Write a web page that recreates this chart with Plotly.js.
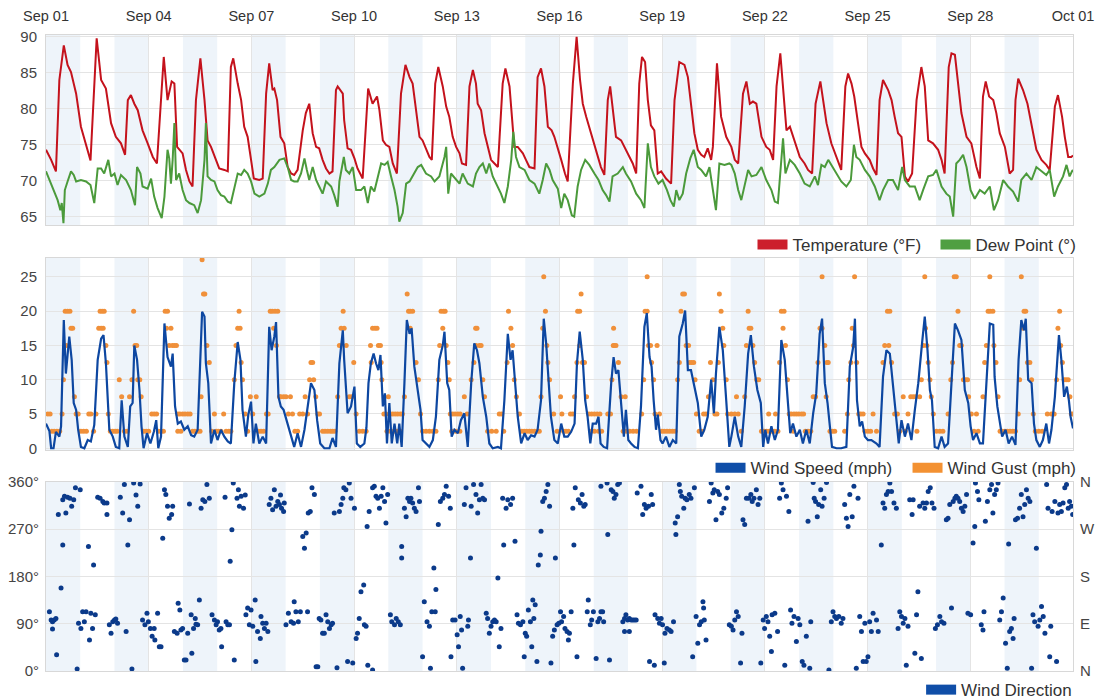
<!DOCTYPE html>
<html><head><meta charset="utf-8">
<script src="https://cdn.plot.ly/plotly-3.0.1.min.js"></script>
<style>html,body{margin:0;padding:0;background:#fff}#chart{width:1097px;height:700px}</style>
</head><body><div id="chart"></div>
<script>
// ---- Temperature (°F): day offset from Sep 01 00:00, value ----
const tempDay = [
 0.00,0.15,0.29,0.39,0.52,0.63,0.73,0.88,1.02,1.17,1.30,
 1.48,1.61,1.75,1.90,2.04,2.19,2.31,
 2.39,2.48,2.58,2.68,2.82,2.97,3.12,3.24,
 3.44,3.55,3.67,3.75,3.83,3.99,4.09,4.19,4.28,
 4.38,4.51,4.63,4.72,4.82,4.97,5.06,5.21,5.31,
 5.40,5.47,5.60,5.70,5.79,5.89,5.99,6.07,6.23,6.33,
 6.43,6.52,6.62,6.67,6.75,6.85,6.96,7.06,7.16,7.25,7.35,
 7.50,7.59,7.69,7.79,7.89,7.98,8.08,8.18,8.28,8.37,
 8.47,8.52,8.67,8.71,8.81,8.91,9.01,9.10,9.25,
 9.41,9.54,9.67,9.74,9.84,9.93,10.03,10.13,10.25,
 10.37,10.50,10.62,10.71,10.81,10.91,11.00,11.10,11.20,11.27,
 11.37,11.46,11.59,11.69,11.78,11.88,11.98,12.08,12.15,12.27,
 12.37,12.47,12.56,12.61,12.71,12.81,12.90,13.00,13.10,13.20,
 13.34,13.42,13.54,13.59,13.68,13.78,13.93,14.02,14.12,14.27,
 14.36,14.46,14.56,14.66,14.77,14.85,14.95,15.05,15.16,15.24,
 15.39,15.50,15.60,15.68,15.78,15.92,16.02,16.14,16.21,16.31,
 16.41,16.48,16.55,16.65,16.80,16.94,17.04,17.14,17.24,
 17.33,17.41,17.50,17.58,17.67,17.77,17.87,17.97,18.11,18.26,
 18.36,18.50,18.65,18.75,18.84,18.94,19.04,19.14,19.23,19.33,19.43,19.48,
 19.60,19.72,19.87,19.92,20.02,20.12,20.22,
 20.36,20.46,20.56,20.65,20.75,20.90,21.04,21.14,21.24,
 21.34,21.45,21.56,21.63,21.73,21.87,22.02,22.16,22.26,
 22.38,22.48,22.62,22.70,22.80,22.94,23.09,23.23,
 23.35,23.43,23.53,23.61,23.72,23.82,23.92,24.06,24.16,24.26,
 24.35,24.45,24.60,24.70,24.79,24.89,24.99,25.09,25.18,
 25.30,25.43,25.57,25.67,25.77,25.91,26.06,26.16,26.25,
 26.37,26.45,26.55,26.64,26.74,26.89,27.03,27.18,27.28,
 27.37,27.45,27.55,27.67,27.76,27.86,28.01,28.15,28.25,
 28.32,28.40,28.54,28.67,28.79,28.93,29.08,29.22,29.32,
 29.47,29.56,29.68,29.76,29.86,29.95,30.00];
const tempF = [
 74.3,72.9,71.3,84.0,88.8,86.1,85.1,82.1,77.5,75.0,72.8,
 89.8,84.0,82.8,78.0,76.1,75.2,73.6,
 81.2,81.9,80.7,79.8,77.0,75.2,73.3,72.4,
 87.2,81.2,83.8,83.5,74.7,73.8,71.5,69.9,69.2,
 81.2,87.0,81.2,75.6,74.7,72.9,71.7,71.5,71.3,
 85.8,87.0,83.5,81.2,77.5,76.1,72.9,70.3,70.1,70.3,
 82.1,86.3,82.6,82.8,81.2,76.1,75.2,71.9,71.0,70.8,71.5,
 77.0,79.4,80.7,76.6,74.7,74.5,72.9,71.7,71.0,71.3,
 82.6,83.1,82.1,78.4,74.5,74.3,73.1,71.7,70.3,
 82.8,80.7,81.7,79.8,75.6,75.0,74.7,72.4,71.0,
 82.1,86.1,84.4,83.5,79.4,76.1,75.6,74.5,73.3,72.9,
 83.5,85.8,83.1,80.3,78.9,76.1,74.7,73.8,72.4,72.2,
 83.1,85.4,83.5,80.7,79.8,76.6,74.7,72.9,72.4,71.9,
 83.5,85.6,83.1,80.3,74.7,74.7,73.8,72.9,71.9,71.7,
 84.4,85.6,83.1,77.5,77.0,76.1,74.3,72.9,71.0,69.9,
 83.5,90.0,84.0,80.7,78.9,76.6,74.7,72.9,71.9,70.8,
 81.2,83.1,80.3,76.1,75.6,74.3,73.3,72.4,71.0,
 83.5,87.2,86.5,81.2,77.7,77.0,71.0,71.3,70.3,69.6,
 81.2,86.5,86.1,84.4,80.3,76.6,74.3,73.6,73.3,74.5,72.9,74.7,
 86.3,78.9,76.1,75.6,74.7,72.9,72.4,
 82.1,83.8,80.7,81.0,80.7,76.1,74.7,74.3,72.9,
 83.1,87.7,81.2,77.0,77.5,75.6,73.3,72.4,71.5,
 71.0,80.7,83.8,81.2,78.0,75.2,73.3,71.5,
 83.1,84.9,83.5,81.7,78.0,74.7,73.8,72.9,71.7,70.8,
 81.2,84.0,82.6,81.2,78.9,76.6,76.1,70.6,69.9,
 71.0,81.2,85.8,83.1,75.6,75.2,74.3,72.9,71.0,
 85.8,87.7,87.5,83.5,79.4,76.1,75.2,71.9,70.3,
 81.7,83.8,81.7,81.2,79.4,76.6,74.7,71.0,71.5,
 81.2,84.2,82.6,80.7,77.5,74.3,72.9,72.2,71.5,
 80.3,81.9,78.9,76.1,73.3,73.3,73.5];

// ---- Dew point (°) ----
const dewDay = [
 0.00,0.15,0.24,0.34,0.42,0.46,0.51,0.55,0.63,0.73,0.81,0.88,1.02,1.17,1.30,1.41,
 1.51,1.61,1.70,1.82,1.90,2.00,2.09,2.19,2.34,2.48,2.60,2.66,2.76,2.82,2.97,3.07,3.16,3.26,3.38,
 3.46,3.55,3.60,3.65,3.70,3.75,3.80,3.89,3.99,4.09,4.19,4.33,4.43,4.53,4.63,4.67,4.72,4.82,4.92,
 5.01,5.11,5.21,5.31,5.40,5.50,5.60,5.70,5.79,5.89,5.99,6.09,6.23,6.38,6.48,6.57,6.67,6.82,6.96,
 7.06,7.16,7.25,7.35,7.45,7.55,7.62,7.69,7.79,7.89,7.98,8.08,8.18,8.33,8.42,8.52,8.57,8.70,8.76,8.86,8.96,9.06,
 9.20,9.30,9.40,9.49,9.59,9.69,9.79,9.89,9.98,10.08,10.18,10.27,10.32,10.42,10.52,10.62,10.76,10.86,10.96,
 11.10,11.25,11.35,11.49,11.64,11.69,11.75,11.83,11.98,12.08,12.17,12.32,12.47,12.56,12.66,12.76,12.86,12.95,
 13.05,13.15,13.29,13.39,13.49,13.59,13.65,13.73,13.83,13.98,14.12,14.27,14.41,14.51,14.61,14.71,14.80,14.95,
 15.05,15.14,15.24,15.36,15.43,15.53,15.63,15.75,15.87,16.02,16.14,16.26,16.36,16.46,16.55,16.70,16.85,16.94,
 17.09,17.24,17.38,17.48,17.53,17.58,17.67,17.77,17.89,18.01,18.14,18.24,18.34,18.41,18.50,18.60,18.70,18.82,18.92,
 19.04,19.14,19.28,19.38,19.48,19.57,19.67,19.82,19.96,
 20.02,20.12,20.22,20.31,20.41,20.51,20.61,20.75,20.90,21.04,21.19,21.29,21.38,21.46,21.53,21.60,21.73,21.87,
 22.02,22.16,22.31,22.46,22.55,22.65,22.75,22.85,22.94,23.09,23.23,23.38,23.51,23.60,23.67,23.77,23.92,24.06,24.21,
 24.35,24.45,24.60,24.74,24.89,25.01,25.09,25.23,25.38,25.52,25.62,25.77,25.91,26.01,26.16,26.30,26.40,26.50,26.59,
 26.69,26.79,26.89,27.01,27.13,27.28,27.42,27.57,27.69,27.81,27.96,28.10,28.25,28.40,28.49,28.64,28.79,28.93,
 29.08,29.22,29.32,29.45,29.56,29.71,29.81,29.90,29.97,30.00];
const dewF = [
 71.3,69.6,68.5,67.3,65.9,66.9,64.1,68.7,69.9,71.3,70.8,69.9,70.1,69.9,69.4,66.9,
 71.7,71.7,71.0,72.9,70.6,71.0,69.4,70.8,70.1,68.7,66.6,71.9,71.0,69.2,68.9,70.3,67.8,66.2,64.8,
 67.8,74.3,73.1,69.6,72.9,78.0,70.1,71.0,68.7,67.3,66.9,66.6,65.5,67.3,72.9,78.0,70.6,70.1,69.9,
 68.7,68.0,67.8,67.1,66.9,69.2,71.0,70.8,71.5,71.0,69.9,68.2,67.8,68.2,69.6,71.5,71.9,72.9,73.1,
 71.9,70.1,69.9,69.9,71.0,73.1,71.5,70.1,71.9,70.1,69.2,68.2,69.9,69.2,68.0,66.4,69.9,73.3,71.5,71.0,71.9,68.7,
 68.7,69.2,66.9,69.2,68.5,70.6,72.4,72.2,72.6,70.6,68.7,66.4,64.3,65.5,69.6,69.9,71.0,71.9,72.2,
 71.0,70.6,69.9,70.6,73.3,74.7,68.2,71.0,70.1,69.6,71.0,69.6,69.2,71.0,71.9,72.4,71.0,72.4,
 70.6,69.6,68.2,66.9,69.2,72.9,76.8,73.3,71.9,71.5,70.1,69.6,68.2,70.1,72.4,71.5,70.1,68.9,
 66.2,68.2,67.3,65.2,65.0,69.2,71.5,72.9,72.2,71.0,70.1,68.7,68.0,67.1,70.6,71.0,71.9,71.0,
 69.9,68.2,67.3,66.2,69.9,75.2,71.9,70.6,69.6,70.1,68.7,67.3,66.4,68.7,67.3,68.2,71.0,73.1,74.3,
 71.9,71.5,70.6,71.9,68.7,65.9,72.4,72.2,72.4,
 72.2,71.0,68.7,67.3,69.2,71.5,70.6,70.8,71.9,70.1,68.7,67.1,66.9,71.9,75.9,71.0,72.9,72.2,
 71.0,69.6,69.2,70.6,69.4,72.2,71.9,72.9,72.2,71.0,69.9,69.2,70.1,75.0,73.3,72.9,71.5,70.6,69.2,
 67.3,68.7,70.1,70.1,68.7,71.9,70.1,69.2,69.2,67.3,68.7,70.6,70.8,71.5,69.2,68.2,67.8,65.0,72.4,
 72.9,73.6,71.9,68.7,67.5,68.7,68.2,69.2,65.9,67.3,70.1,69.2,68.5,67.1,70.1,71.0,70.1,71.9,
 71.3,70.8,71.5,67.8,69.2,70.6,72.2,70.6,71.3,71.5];

// ---- Wind speed (mph) ----
const windDay = [
 0.00,0.10,0.15,0.22,0.29,0.39,0.44,0.52,0.58,0.63,0.68,0.75,0.81,0.88,0.94,1.02,1.12,1.22,1.31,
 1.41,1.51,1.61,1.68,1.75,1.80,1.85,1.95,2.04,2.14,2.21,2.29,2.39,2.46,2.53,2.58,2.66,2.73,2.79,2.85,2.95,
 3.05,3.15,3.22,3.28,3.36,3.46,3.55,3.65,3.70,3.77,3.85,3.94,4.04,4.14,4.24,4.33,4.43,
 4.56,4.63,4.67,4.74,4.82,4.92,5.01,5.11,5.21,5.31,5.40,
 5.50,5.60,5.68,5.74,5.84,5.91,5.99,6.06,6.13,6.23,6.33,6.43,
 6.52,6.59,6.67,6.72,6.79,6.86,6.94,7.04,7.16,7.25,7.35,7.45,
 7.55,7.64,7.74,7.84,7.92,8.01,8.13,8.28,8.37,8.47,
 8.57,8.67,8.71,8.81,8.91,9.01,9.08,9.18,9.30,
 9.36,9.42,9.49,9.57,9.64,9.71,9.77,9.84,9.90,9.96,10.03,10.10,10.18,10.26,10.32,10.39,
 10.47,10.54,10.62,10.68,10.76,10.86,10.94,11.00,11.10,11.20,11.30,11.39,
 11.49,11.59,11.64,11.72,11.78,11.85,11.93,12.03,12.12,12.22,12.32,
 12.42,12.51,12.59,12.66,12.76,12.86,12.95,13.05,13.20,13.29,
 13.39,13.49,13.57,13.63,13.70,13.78,13.88,13.98,14.07,14.17,14.27,14.36,
 14.46,14.54,14.61,14.68,14.75,14.85,14.95,15.05,15.14,15.24,15.34,15.44,
 15.51,15.59,15.68,15.75,15.82,15.90,15.97,16.07,16.14,16.20,16.29,16.39,
 16.51,16.58,16.65,16.72,16.80,16.88,16.94,17.01,17.09,17.19,17.29,
 17.38,17.48,17.55,17.63,17.69,17.75,17.82,17.87,17.95,18.01,18.11,18.21,18.31,18.41,
 18.50,18.60,18.67,18.75,18.84,18.94,19.04,19.14,19.23,19.33,19.43,19.51,
 19.57,19.67,19.77,19.87,19.96,20.02,20.12,20.22,20.31,
 20.41,20.51,20.59,20.68,20.78,20.88,20.95,21.01,21.09,21.19,21.29,21.38,
 21.48,21.58,21.66,21.74,21.82,21.92,22.02,22.11,22.21,22.31,22.41,22.50,
 22.60,22.67,22.75,22.83,22.89,22.96,23.09,23.23,23.38,
 23.48,23.58,23.63,23.69,23.77,23.84,23.92,24.01,24.11,24.26,24.35,
 24.45,24.55,24.65,24.72,24.77,24.84,24.91,24.99,25.09,25.18,25.28,25.38,25.48,
 25.59,25.67,25.75,25.82,25.88,25.96,26.06,26.16,26.25,26.35,
 26.45,26.55,26.64,26.74,26.84,26.94,27.01,27.08,27.18,27.28,27.37,
 27.47,27.57,27.67,27.71,27.79,27.86,27.93,28.03,28.12,28.22,28.32,
 28.41,28.49,28.57,28.62,28.69,28.79,28.86,28.93,29.03,29.12,29.22,29.30,29.37,
 29.47,29.59,29.66,29.74,29.82,29.88,29.93,30.00];
const windMph = [
 3.6,2.5,0,0,2.4,1.7,3.2,18.7,10.9,14.3,16.3,12.9,6.6,5.6,2.7,0.2,0,1.2,1.0,
 3.4,12.9,16.0,16.5,12.4,7.5,2.7,1.7,0.2,0,7.0,1.7,0.2,6.1,6.6,15.0,12.9,8.5,3.2,0,2.2,
 0.7,2.4,4.1,0,1.7,18.2,13.3,11.9,13.8,6.1,3.6,3.9,2.7,3.2,1.9,1.7,2.7,
 19.9,19.2,12.4,9.5,0.7,2.7,1.2,2.7,1.7,1.0,0.7,
 9.5,15.5,12.9,5.6,1.7,4.9,6.8,0.7,3.6,0.7,1.7,0.7,
 17.7,14.3,16.3,18.4,7.5,6.1,5.6,3.9,1.7,0.2,2.2,0.2,
 2.7,6.1,9.5,8.5,4.1,0.7,0,0,1.5,0.2,
 12.4,17.2,12.9,5.1,6.1,9.0,0.7,0.2,0.7,
 3.0,9.5,12.4,13.8,12.4,11.4,13.6,6.1,8.0,0.7,6.6,0.7,3.6,0.7,3.6,0.2,
 9.5,18.7,16.7,17.5,11.9,8.5,5.6,1.2,0.7,0.2,1.2,4.6,
 12.9,15.0,17.0,9.5,8.5,1.7,2.7,2.2,4.1,5.1,0.2,
 9.5,15.3,14.3,12.4,7.5,4.6,0.7,0,0.2,0,
 7.0,16.7,12.9,14.3,9.5,4.6,0.7,2.2,1.2,1.9,1.7,2.7,
 7.0,18.9,15.3,10.0,4.6,1.2,0.7,3.6,1.7,1.7,2.4,3.6,
 12.4,17.0,12.9,7.0,4.6,0.7,3.6,3.6,4.6,0.7,0.2,0,
 9.5,13.3,10.9,11.4,6.6,1.7,5.6,1.2,0.7,0.2,0,
 6.1,17.7,19.7,13.3,11.9,7.0,2.7,4.9,1.2,0.7,1.7,0.2,1.2,0.7,
 16.3,18.2,20.1,11.4,11.4,9.0,6.6,1.7,2.7,4.6,10.0,5.1,
 10.9,17.7,14.3,7.0,0.2,1.7,4.6,1.7,0.2,
 6.1,13.8,16.5,11.9,8.5,6.6,0.2,2.7,0.7,3.2,1.2,2.7,
 15.8,12.9,7.5,2.2,3.6,1.7,2.7,0.7,2.7,0.7,5.1,8.0,
 16.7,18.9,9.5,6.6,3.6,0.2,0,0,0.2,
 11.9,14.8,18.9,7.0,3.2,3.9,1.7,1.2,1.2,0.7,0.2,
 10.4,14.3,13.8,10.4,8.0,3.6,0.7,4.1,1.7,3.6,1.2,5.6,9.5,
 15.3,19.2,14.3,8.5,7.0,0.2,0,1.7,0.2,0.7,
 9.5,18.2,17.2,15.8,8.5,6.6,3.2,1.2,2.2,0.7,0.7,
 10.4,18.2,18.0,10.4,6.1,3.6,1.7,2.7,0.7,1.7,0.5,
 12.9,18.7,17.2,18.9,10.0,9.5,3.6,1.2,0.2,1.2,3.6,0.7,2.7,
 7.5,16.5,12.9,7.5,9.0,7.0,4.6,2.9];

// ---- Wind gust (mph), reported points ----
const gustDay = [
 0.05,0.12,0.17,0.24,0.32,0.40,0.47,0.51,0.56,0.60,0.63,0.70,0.73,0.78,0.83,0.88,0.94,
 1.02,1.10,1.18,1.25,1.31,1.39,1.46,1.54,1.58,1.61,1.64,1.67,1.70,1.75,1.78,1.82,1.88,1.95,
 2.02,2.08,2.14,2.21,2.29,2.37,2.44,2.51,2.56,2.60,2.65,2.68,2.74,2.78,2.85,2.93,
 3.00,3.09,3.16,3.23,3.28,3.36,3.43,3.48,3.52,3.55,3.60,3.65,3.69,3.75,3.81,3.85,3.85,3.91,3.94,3.99,4.06,4.14,4.21,4.28,4.35,4.43,4.50,
 4.53,4.56,4.60,4.64,4.70,4.77,4.84,4.92,4.97,5.03,5.11,5.19,5.26,5.34,5.40,
 5.50,5.55,5.60,5.64,5.67,5.70,5.74,5.82,5.89,5.97,6.04,6.14,6.20,6.28,6.36,6.44,6.49,
 6.55,6.61,6.65,6.69,6.73,6.77,6.82,6.86,6.94,7.01,7.08,7.14,7.20,7.27,7.35,7.41,
 7.50,7.57,7.64,7.70,7.74,7.79,7.82,7.88,7.94,7.99,8.08,8.15,8.23,8.31,8.37,8.44,
 8.52,8.57,8.62,8.68,8.71,8.77,8.86,8.93,8.99,9.06,9.15,9.25,9.35,
 9.48,9.50,9.54,9.61,9.67,9.71,9.77,9.79,9.81,9.87,9.93,9.96,10.00,10.06,10.06,10.13,10.16,10.20,10.26,10.27,10.35,10.35,10.41,
 10.47,10.55,10.59,10.64,10.64,10.71,10.81,10.88,10.94,11.00,11.10,11.20,11.30,11.39,
 11.46,11.50,11.54,11.59,11.61,11.66,11.69,11.74,11.78,11.81,11.85,11.88,11.95,11.97,12.03,12.09,12.10,12.22,12.30,
 12.42,12.50,12.55,12.56,12.59,12.66,12.71,12.76,12.81,12.90,13.02,13.15,13.24,13.31,13.37,
 13.47,13.51,13.58,13.63,13.68,13.74,13.83,13.90,13.97,14.04,14.12,14.19,14.27,14.34,14.41,
 14.46,14.51,14.54,14.59,14.63,14.66,14.71,14.83,14.93,15.03,15.07,15.12,15.19,15.26,15.32,15.39,15.44,
 15.51,15.53,15.59,15.59,15.63,15.67,15.73,15.79,15.86,15.92,15.94,16.02,16.02,16.10,16.14,16.18,16.23,
 16.41,16.49,16.53,16.57,16.58,16.60,16.65,16.72,16.80,16.86,16.92,16.95,17.05,17.15,17.25,
 17.40,17.46,17.50,17.56,17.56,17.60,17.66,17.69,17.75,17.79,17.85,17.92,17.99,18.06,18.14,18.22,18.30,18.38,
 18.45,18.50,18.55,18.60,18.65,18.70,18.77,18.80,18.86,18.92,18.96,19.00,19.08,19.16,19.21,19.28,19.35,
 19.41,19.48,19.54,19.60,19.64,19.67,19.72,19.77,19.80,19.87,19.91,
 20.02,20.12,20.17,20.22,20.31,20.41,20.46,20.51,20.54,20.59,20.65,20.70,20.76,20.82,20.90,20.98,21.05,21.11,21.13,21.21,21.29,21.31,21.38,
 21.43,21.48,21.53,21.56,21.60,21.66,21.71,21.77,21.83,21.85,21.92,21.99,22.07,22.13,22.18,22.26,22.34,
 22.41,22.48,22.55,22.61,22.67,22.67,22.75,22.79,22.81,22.85,22.90,22.97,23.04,23.33,
 23.41,23.45,23.51,23.55,23.59,23.62,23.68,23.74,23.80,23.87,23.92,24.01,24.09,24.16,24.26,
 24.45,24.50,24.58,24.62,24.65,24.70,24.79,24.87,24.94,25.04,25.10,25.18,25.26,25.33,25.40,25.44,
 25.52,25.57,25.63,25.67,25.69,25.73,25.77,25.82,25.86,25.92,26.01,26.11,26.20,
 26.35,26.43,26.48,26.53,26.59,26.64,26.69,26.74,26.80,26.86,26.92,26.95,27.03,27.11,27.18,27.23,
 27.37,27.42,27.47,27.52,27.57,27.58,27.66,27.69,27.75,27.81,27.87,27.94,28.01,28.08,28.16,28.24,28.32,
 28.40,28.44,28.49,28.54,28.57,28.62,28.67,28.74,28.79,28.84,28.90,29.00,29.10,29.25,
 29.37,29.45,29.52,29.56,29.61,29.64,29.69,29.74,29.80,29.86,29.91,29.95,30.00];
const gustMph = [
 5,5,2.5,2.5,2.5,2.5,5,10,20,15,20,20,17.5,17.5,7.5,5,5,
 2.5,2.5,2.5,5,5,2.5,5,17.5,20,17.5,20,17.5,20,15,12.5,5,2.5,2.5,
 2.5,2.5,10,7.5,2.5,2.5,7.5,10,20,15,15,10,10,7.5,2.5,2.5,
 2.5,5,5,5,2.5,2.5,2.5,20,17.5,20,15,17.5,15,15,15,5,2.5,5,2.5,5,5,5,5,2.5,2.5,2.5,2.5,
 7.5,27.5,22.5,22.5,15,12.5,2.5,5,2.5,2.5,2.5,5,2.5,2.5,2.5,
 10,15,17.5,20,17.5,12.5,10,5,2.5,7.5,5,7.5,2.5,2.5,2.5,5,5,
 20,20,17.5,20,15,20,7.5,7.5,7.5,7.5,5,7.5,5,2.5,2.5,5,
 5,7.5,5,10,12.5,12.5,10,7.5,5,5,2.5,2.5,2.5,2.5,2.5,2.5,
 7.5,15,17.5,20,17.5,15,7.5,7.5,12.5,5,2.5,2.5,2.5,
 15,12.5,17.5,17.5,17.5,15,15,12.5,10,5,5,2.5,7.5,5,2.5,5,2.5,5,2.5,5,5,2.5,5,
 7.5,22.5,20,20,17.5,20,12.5,10,5,2.5,2.5,2.5,2.5,2.5,
 10,15,20,17.5,20,20,15,12.5,10,5,2.5,5,5,2.5,5,2.5,5,7.5,5,
 10,12.5,17.5,15,17.5,15,15,10,7.5,2.5,2.5,2.5,5,5,2.5,
 12.5,20,17.5,15,10,7.5,5,2.5,2.5,2.5,2.5,2.5,2.5,2.5,2.5,
 7.5,17.5,25,20,15,12.5,10,5,2.5,7.5,5,2.5,2.5,2.5,5,5,7.5,
 12.5,20,20,15,22.5,12.5,12.5,7.5,5,2.5,5,5,2.5,5,2.5,5,2.5,
 5,5,10,15,17.5,15,15,12.5,7.5,2.5,7.5,2.5,2.5,2.5,2.5,
 5,10,20,20,25,15,15,12.5,10,5,15,5,2.5,2.5,2.5,2.5,2.5,2.5,
 10,12.5,20,22.5,22.5,15,15,12.5,12.5,12.5,10,5,2.5,2.5,5,5,7.5,
 12.5,10,5,5,12.5,22.5,20,17.5,15,10,5,
 5,5,7.5,5,2.5,7.5,15,20,17.5,17.5,15,12.5,10,10,2.5,2.5,2.5,5,2.5,2.5,2.5,5,2.5,
 12.5,20,17.5,20,15,10,5,5,2.5,5,5,5,5,5,2.5,2.5,2.5,
 7.5,7.5,12.5,17.5,17.5,25,15,7.5,12.5,12.5,2.5,2.5,2.5,2.5,
 5,10,12.5,17.5,15,25,12.5,5,5,5,2.5,2.5,2.5,5,2.5,
 12.5,15,20,15,20,12.5,5,5,2.5,7.5,2.5,5,7.5,7.5,7.5,2.5,
 7.5,10,15,25,17.5,15,12.5,10,7.5,5,2.5,2.5,2.5,
 5,10,12.5,25,25,20,15,15,10,10,10,7.5,5,2.5,5,2.5,
 7.5,12.5,15,20,25,20,20,15,12.5,7.5,2.5,2.5,2.5,2.5,2.5,2.5,2.5,
 5,10,25,17.5,20,20,12.5,12.5,10,5,2.5,2.5,2.5,5,
 5,5,10,17.5,20,15,12.5,10,10,10,7.5,5,5];

// ---- Wind direction (degrees) ----
const dirDay = [
 0.10,0.15,0.19,0.24,0.29,0.19,0.31,0.36,0.44,0.49,0.49,0.54,0.58,0.63,0.70,0.75,0.81,0.86,0.91,0.95,
 1.00,1.02,1.07,1.12,1.17,1.24,1.27,1.31,1.36,1.39,1.44,1.51,1.58,1.66,1.70,1.78,1.78,1.85,1.90,1.95,
 2.00,2.04,2.09,2.17,2.24,2.29,2.34,2.39,2.44,2.51,2.56,2.63,2.68,2.75,2.82,2.89,2.95,2.99,
 3.05,3.10,3.16,3.18,3.26,3.31,3.36,3.41,3.46,3.50,3.55,3.60,3.67,3.70,3.75,3.83,3.86,3.91,3.94,3.99,
 4.04,4.09,4.14,4.19,4.24,4.26,4.31,4.36,4.38,4.43,4.48,4.53,4.58,4.64,4.70,4.77,4.85,4.92,4.97,
 5.01,5.06,5.11,5.13,5.23,5.26,5.31,5.36,5.38,5.43,5.47,5.50,5.58,5.62,5.65,5.70,5.77,5.82,5.84,5.89,5.94,5.99,
 6.04,6.11,6.13,6.18,6.26,6.28,6.33,6.38,6.43,6.48,6.52,6.57,6.62,6.67,6.72,6.77,6.82,6.85,6.88,6.94,6.96,
 7.01,7.08,7.16,7.23,7.25,7.30,7.37,7.43,7.50,7.55,7.60,7.64,7.66,7.72,7.77,7.84,7.89,7.94,7.98,
 8.03,8.08,8.13,8.18,8.23,8.28,8.33,8.37,8.42,8.50,8.57,8.62,8.67,8.70,8.76,8.81,8.86,8.91,8.96,
 9.01,9.06,9.10,9.15,9.20,9.28,9.30,9.35,9.38,9.40,9.44,
 9.54,9.59,9.54,9.64,9.69,9.74,9.79,9.84,9.89,9.93,9.98,
 10.06,10.10,10.18,10.23,10.29,10.35,10.39,10.39,10.47,10.52,10.57,10.62,10.66,10.71,10.76,10.81,10.88,10.91,
 11.00,11.05,11.13,11.20,11.23,11.27,11.33,11.37,11.39,11.46,11.52,11.59,11.64,11.69,11.76,11.81,11.83,11.88,11.95,
 12.01,12.05,12.10,12.14,12.17,12.22,12.27,12.32,12.34,12.40,12.42,12.49,12.56,12.61,12.66,12.71,12.76,12.81,12.86,12.90,12.95,
 13.00,13.05,13.10,13.15,13.20,13.24,13.29,13.34,13.37,13.44,13.49,13.57,13.63,13.70,13.76,13.80,13.86,13.93,13.97,
 14.00,14.04,14.09,14.15,14.19,14.22,14.25,14.29,14.34,14.38,14.44,14.46,14.51,14.56,14.61,14.66,14.71,14.75,14.80,14.85,14.88,14.93,14.98,
 15.03,15.06,15.12,15.16,15.22,15.26,15.29,15.34,15.39,15.42,15.46,15.51,15.55,15.61,15.66,15.71,15.75,15.81,15.84,15.90,15.94,15.99,
 16.07,16.12,16.17,16.21,16.26,16.29,16.21,16.39,16.46,16.51,16.56,16.60,16.65,16.70,16.75,16.41,16.85,16.90,16.94,16.99,
 17.04,17.09,17.14,17.19,17.24,16.90,17.04,17.27,17.38,17.43,17.48,17.53,17.60,17.68,17.72,17.63,17.77,17.79,17.87,17.92,17.97,
 18.01,18.06,18.08,18.14,18.21,18.26,18.33,18.38,18.40,18.45,18.50,18.53,18.57,18.63,18.67,18.72,18.79,18.84,18.94,18.89,18.99,
 19.04,19.09,19.14,19.19,19.21,19.28,19.23,19.38,19.43,19.48,19.52,19.57,19.62,19.67,19.74,19.80,19.87,19.91,19.96,
 20.02,20.07,20.12,20.17,20.22,20.29,20.33,20.36,20.41,20.46,20.53,20.59,20.63,20.68,20.75,20.80,20.85,20.88,20.95,20.99,
 21.04,21.09,21.14,21.19,21.21,21.29,21.37,21.43,21.48,21.53,21.58,21.63,21.70,21.75,21.79,21.85,21.92,21.97,
 22.02,22.09,22.14,22.21,22.26,22.31,22.34,22.41,22.44,22.48,22.53,22.57,22.63,22.67,22.73,22.80,22.87,22.94,22.99,
 23.04,23.09,23.16,23.23,23.28,23.33,23.38,23.43,23.48,23.55,23.60,23.67,23.72,23.77,23.82,23.87,23.92,23.96,
 24.01,24.06,24.11,24.16,24.26,24.31,24.40,24.45,24.50,24.55,24.60,24.65,24.70,24.77,24.84,24.89,24.94,24.99,
 25.04,25.09,25.13,25.18,25.23,25.30,25.33,25.38,25.43,25.47,25.52,25.57,25.62,25.67,25.72,25.77,25.83,25.88,25.94,25.98,
 26.04,26.11,26.16,26.23,26.30,26.35,26.40,26.45,26.50,26.55,26.59,26.64,26.69,26.74,26.79,26.84,26.89,26.93,
 27.01,27.08,27.13,27.15,27.21,27.25,27.32,27.37,27.40,27.44,27.50,27.57,27.62,27.66,27.71,27.76,27.81,27.86,27.91,27.96,
 28.03,28.08,28.12,28.15,28.20,28.25,28.28,28.32,28.38,28.44,28.49,28.54,28.59,28.64,28.69,28.74,28.79,28.83,28.88,28.93,28.98,
 29.03,29.08,29.13,29.18,29.23,29.27,29.32,29.35,29.39,29.47,29.52,29.56,29.61,29.66,29.71,29.76,29.81,29.86,29.90,29.95,29.99];
const dirDeg = [
 113,97,94,97,100,80,31,298,158,240,326,333,301,331,329,314,326,349,4,91,
 345,81,113,94,113,237,59,110,81,202,107,331,329,323,320,320,298,88,72,94,
 97,99,91,331,301,355,75,240,288,4,358,335,314,356,97,88,110,94,
 81,66,81,59,110,46,46,253,345,336,314,291,298,314,75,72,129,116,78,81,
 21,21,72,318,107,34,81,100,89,88,135,310,326,323,355,329,107,97,88,
 94,78,81,46,331,94,88,88,209,269,358,21,329,345,314,333,310,335,107,120,88,116,
 85,135,18,75,62,104,91,81,91,75,317,329,307,345,314,323,317,335,310,304,320,
 88,110,94,91,132,113,94,113,256,234,263,113,301,304,349,336,8,8,100,
 97,72,72,107,94,81,88,91,301,6,304,317,329,349,345,18,358,329,15,
 310,62,72,100,151,164,88,85,275,11,304,
 349,352,2,333,329,310,333,349,323,282,336,
 107,94,88,100,94,88,215,237,310,294,329,323,329,320,310,304,349,323,
 27,132,94,85,5,113,196,113,155,279,323,329,336,352,333,310,27,97,97,
 69,46,104,78,5,317,349,85,97,215,314,355,336,301,326,355,329,326,110,100,72,
 85,94,97,94,177,46,81,329,240,310,326,317,329,247,107,91,88,94,27,
 72,66,116,94,46,135,100,126,18,202,221,266,323,329,342,355,314,15,66,78,215,88,91,
 113,94,104,81,75,59,72,113,310,240,349,27,326,320,336,314,317,113,135,88,97,113,
 24,94,100,113,113,94,352,358,21,345,342,329,336,355,358,260,94,100,107,97,
 100,97,97,97,97,75,75,339,352,298,317,310,314,336,317,18,11,107,100,91,100,
 88,15,72,81,78,75,94,282,260,294,355,342,333,310,329,326,336,329,349,27,104,
 53,88,94,132,120,59,97,323,358,339,345,288,342,336,301,310,329,349,88,
 85,78,97,113,104,15,72,288,279,329,329,336,323,329,345,317,329,15,97,81,
 104,94,66,37,107,110,75,329,358,345,11,333,304,116,91,104,56,100,
 88,18,11,66,285,5,94,359,329,323,294,317,345,314,329,359,2,94,113,
 104,100,104,91,100,317,291,275,336,294,352,5,329,104,75,18,91,18,
 27,94,75,110,97,75,240,320,310,336,342,358,342,320,310,81,113,104,
 91,100,11,85,326,298,326,34,107,151,314,24,320,310,320,342,349,320,310,81,
 88,104,94,91,288,291,317,120,323,329,333,329,323,310,304,314,336,110,
 107,244,275,358,342,326,88,78,113,285,323,345,355,301,336,345,358,97,113,139,
 53,5,242,75,81,62,100,288,291,310,336,294,317,345,329,323,5,107,94,234,85,
 97,123,104,72,355,310,27,85,304,323,18,301,317,304,320,349,355,310,323,314,298];

const dirTickVals = [0, 90, 180, 270, 360];
const compassText = ['N', 'E', 'S', 'W', 'N'];

// ---- build ----
const DAY = 86400000;
const T0 = Date.UTC(2019, 8, 1);
const toX = a => a.map(d => T0 + d * DAY);
const FONT = 'Liberation Sans, Arial, sans-serif';
const GRID = '#e4e4e4', BORDER = '#d8d8d8';

const traces = [
  {x: toX(tempDay), y: tempF, xaxis:'x', yaxis:'y', mode:'lines', line:{color:'#c4121c', width:2}, showlegend:false, hoverinfo:'skip'},
  {x: toX(dewDay), y: dewF, xaxis:'x', yaxis:'y', mode:'lines', line:{color:'#4b9a3b', width:2}, showlegend:false, hoverinfo:'skip'},
  {x: toX(gustDay), y: gustMph, xaxis:'x2', yaxis:'y2', mode:'markers', marker:{color:'#f0903a', size:5}, showlegend:false, hoverinfo:'skip'},
  {x: toX(windDay), y: windMph, xaxis:'x2', yaxis:'y2', mode:'lines', line:{color:'#0d47a1', width:2.2}, showlegend:false, hoverinfo:'skip'},
  {x: toX(dirDay), y: dirDeg, xaxis:'x3', yaxis:'y3', mode:'markers', marker:{color:'#0b3a8a', size:5}, showlegend:false, hoverinfo:'skip'},
  {x: [T0], y: [null], xaxis:'x3', yaxis:'y4', mode:'markers', showlegend:false, hoverinfo:'skip'},
  // legend swatches
  {x:[null], y:[null], xaxis:'x', yaxis:'y', mode:'lines', line:{color:'#cc1f2c', width:10}, name:'Temperature (°F)', legend:'legend'},
  {x:[null], y:[null], xaxis:'x', yaxis:'y', mode:'lines', line:{color:'#4f9f42', width:10}, name:'Dew Point (°)', legend:'legend'},
  {x:[null], y:[null], xaxis:'x2', yaxis:'y2', mode:'lines', line:{color:'#0f4ea8', width:10}, name:'Wind Speed (mph)', legend:'legend2'},
  {x:[null], y:[null], xaxis:'x2', yaxis:'y2', mode:'lines', line:{color:'#f39132', width:10}, name:'Wind Gust (mph)', legend:'legend2'},
  {x:[null], y:[null], xaxis:'x3', yaxis:'y3', mode:'lines', line:{color:'#0f4ea8', width:10}, name:'Wind Direction', legend:'legend3'}
];

const shapes = [];
for (let k = 0; k < 30; k += 2) {
  [['x','y domain'],['x2','y2 domain'],['x3','y3 domain']].forEach(([xr, yr]) => {
    shapes.push({type:'rect', xref:xr, yref:yr, x0:T0 + k*DAY, x1:T0 + (k+1)*DAY, y0:0, y1:1,
      fillcolor:'#eef4fa', line:{width:0}, layer:'below'});
  });
}

const xBase = {type:'date', range:[T0, T0 + 30*DAY], tick0:T0, dtick:3*DAY, tickformat:'%b %d',
  showgrid:true, gridcolor:GRID, showline:true, linecolor:BORDER, mirror:true, ticks:'', zeroline:false,
  tickfont:{family:FONT, size:14.5, color:'#333'}};
const yBase = {showgrid:true, gridcolor:GRID, showline:true, linecolor:BORDER, mirror:true, ticks:'',
  zeroline:false, tickfont:{family:FONT, size:15, color:'#444'}, ticklabelstandoff:5};

const legBase = {orientation:'h', xanchor:'right', yanchor:'middle', bgcolor:'rgba(0,0,0,0)',
  font:{family:FONT, size:17, color:'#333'}, itemwidth:30, traceorder:'normal'};

const layout = {
  width:1097, height:700,
  margin:{l:46, r:24, t:35, b:29, autoexpand:false},
  paper_bgcolor:'#fff', plot_bgcolor:'#fff',
  font:{family:FONT},
  xaxis: Object.assign({}, xBase, {domain:[0,1], anchor:'y', side:'top', ticklabelstandoff:7}),
  xaxis2: Object.assign({}, xBase, {domain:[0,1], anchor:'y2', matches:'x', showticklabels:false}),
  xaxis3: Object.assign({}, xBase, {domain:[0,1], anchor:'y3', matches:'x', showticklabels:false}),
  yaxis: Object.assign({}, yBase, {domain:[0.7013,1], anchor:'x', range:[63.85,90.25], tick0:0, dtick:5}),
  yaxis2: Object.assign({}, yBase, {domain:[0.3475,0.6494], anchor:'x2', range:[-0.25,27.75], tick0:0, dtick:5}),
  yaxis3: Object.assign({}, yBase, {domain:[0,0.2972], anchor:'x3', range:[0,360], tickmode:'array',
    tickvals:dirTickVals, ticktext:dirTickVals.map(v => v + '°'), ticklabelstandoff:3}),
  yaxis4: {overlaying:'y3', anchor:'x3', side:'right', range:[0,360], tickmode:'array', tickvals:dirTickVals,
    ticktext:compassText, showgrid:false, zeroline:false, showline:false, ticks:'', ticklabelstandoff:6,
    tickfont:{family:FONT, size:15, color:'#444'}},
  legend: Object.assign({}, legBase, {y:0.670, x:1.0443, entrywidth:138, entrywidthmode:'pixels'}),
  legend2: Object.assign({}, legBase, {y:0.319, x:1.0307, entrywidth:152, entrywidthmode:'pixels'}),
  legend3: Object.assign({}, legBase, {y:-0.030, x:1.004}),
  shapes: shapes,
  showlegend: true
};

Plotly.newPlot('chart', traces, layout, {staticPlot:true, displayModeBar:false});
</script>
</body></html>
